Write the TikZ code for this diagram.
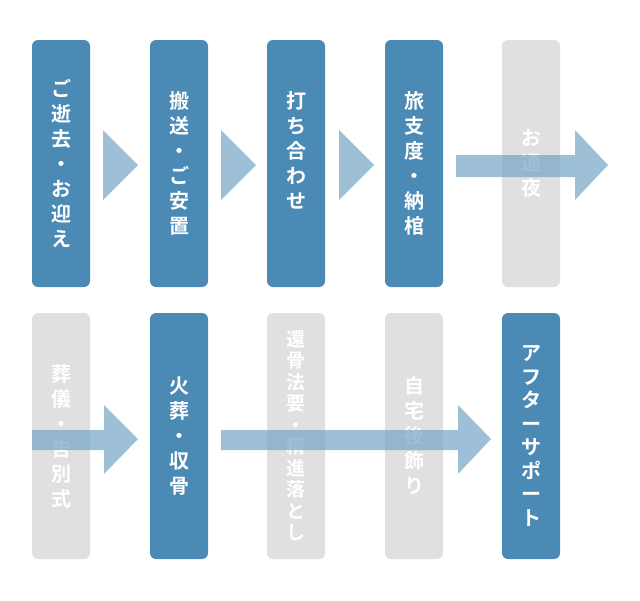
\documentclass[tikz,border=0pt]{standalone}
\usepackage{fontspec}
\setmainfont{Noto Sans CJK JP}[BoldFont={Noto Sans CJK JP Bold}]
\definecolor{bluebox}{HTML}{4A8AB5}
\definecolor{graybox}{HTML}{E0E0E0}
\definecolor{arrowc}{HTML}{73A5C4}
\begin{document}
\begin{tikzpicture}[x=1pt,y=-1pt,
  box/.style={rounded corners=6pt,minimum width=58pt,inner sep=0pt},
  lbl/.style={text=white,align=center,font=\bfseries\fontsize{20}{25}\selectfont},
  arr/.style={fill=arrowc,opacity=0.7}]
\useasboundingbox (0,0) rectangle (640,600);
% top row boxes
\fill[bluebox,rounded corners=6pt] (32,40) rectangle (90,287) coordinate (b1);
\fill[bluebox,rounded corners=6pt] (150,40) rectangle (208,287);
\fill[bluebox,rounded corners=6pt] (267,40) rectangle (325,287);
\fill[bluebox,rounded corners=6pt] (385,40) rectangle (443,287);
\fill[graybox,rounded corners=6pt] (502,40) rectangle (560,287);
\node[lbl] (t1) at (61,163) {ご\\逝\\去\\・\\お\\迎\\え};
\node[lbl] (t2) at (179,163) {搬\\送\\・\\ご\\安\\置};
\node[lbl] (t3) at (296,150) {打\\ち\\合\\わ\\せ};
\node[lbl] (t4) at (414,163) {旅\\支\\度\\・\\納\\棺};
\node[lbl] (t5) at (531,163) {お\\通\\夜};
% bottom row boxes
\fill[graybox,rounded corners=6pt] (32,313) rectangle (90,559);
\fill[bluebox,rounded corners=6pt] (150,313) rectangle (208,559);
\fill[graybox,rounded corners=6pt] (267,313) rectangle (325,559);
\fill[graybox,rounded corners=6pt] (385,313) rectangle (443,559);
\fill[bluebox,rounded corners=6pt] (502,313) rectangle (560,559);
\node[lbl] (u1) at (61,436) {葬\\儀\\・\\告\\別\\式};
\node[lbl] (u2) at (179,436) {火\\葬\\・\\収\\骨};
\node[lbl,font=\bfseries\fontsize{19}{21.5}\selectfont] (u3) at (296,436) {還\\骨\\法\\要\\・\\精\\進\\落\\と\\し};
\node[lbl] (u4) at (414,436) {自\\宅\\後\\飾\\り};
\node[lbl,font=\bfseries\fontsize{20}{23.5}\selectfont] (u5) at (531,436) {ア\\フ\\タ\\ー\\サ\\ポ\\ー\\ト};
% arrows
\fill[arr] (103,130) -- (138,165) -- (103,200) -- cycle;
\fill[arr] (221,130) -- (256,165) -- (221,200) -- cycle;
\fill[arr] (339,130) -- (374,165) -- (339,200) -- cycle;
\fill[arr] (456,155) -- (575,155) -- (575,130) -- (608,165) -- (575,200) -- (575,177) -- (456,177) -- cycle;
\fill[arr] (32,430) -- (104,430) -- (104,405) -- (138,439) -- (104,474) -- (104,450) -- (32,450) -- cycle;
\fill[arr] (221,430) -- (458,430) -- (458,405) -- (491,439) -- (458,474) -- (458,450) -- (221,450) -- cycle;
\end{tikzpicture}
\end{document}
